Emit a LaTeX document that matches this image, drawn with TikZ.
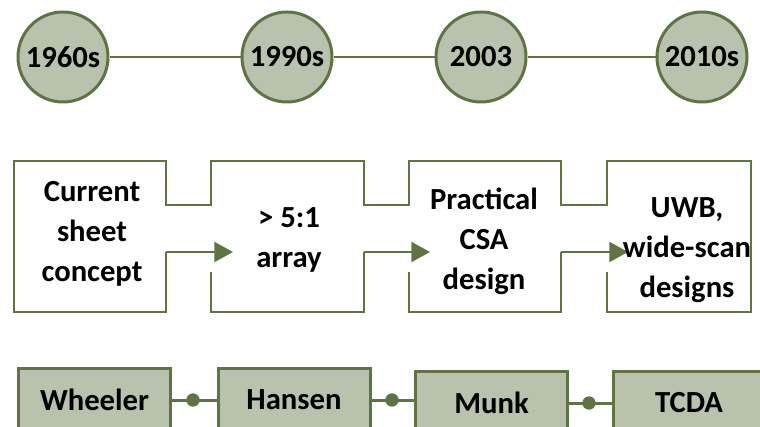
\documentclass[tikz,border=0pt]{standalone}
\usepackage{fontspec}
\setmainfont{Carlito}
\usetikzlibrary{arrows.meta}
\definecolor{olivedark}{RGB}{96,116,67}
\definecolor{olivefill}{RGB}{184,194,173}

\begin{document}
\begin{tikzpicture}
[x=0.75pt,y=-0.75pt,line join=miter,%
  yearnode/.style={shape=circle,draw=olivedark,fill=olivefill,line width=2.25pt,
    inner sep=0pt,minimum size=67.5pt,font=\bfseries\fontsize{23}{28}\selectfont},
  stagetext/.style={align=center,inner sep=0pt,font=\bfseries\fontsize{23}{30}\selectfont},
  personbox/.style={draw=olivedark,fill=olivefill,line width=2.25pt,inner sep=0pt,
    minimum width=114pt,minimum height=46.5pt,font=\bfseries\fontsize{23}{28}\selectfont},
  link/.style={draw=olivedark,line width=1.6pt},
  step arrow/.style={link,-{Triangle[length=14pt,width=15pt]}},
  dot/.style={shape=circle,fill=olivedark,inner sep=0pt,minimum size=10pt}]
\useasboundingbox (0,0) rectangle (760,427);

% timeline
\node[yearnode] (y1) at (63,57) {1960s};
\node[yearnode] (y2) at (287,57) {1990s};
\node[yearnode] (y3) at (481,57) {2003};
\node[yearnode] (y4) at (702,57) {2010s};
\draw[link] (y1) -- (y2) (y2) -- (y3) (y3) -- (y4);

% stages
\draw[link]
  (166,252) -- (166,312) -- (14,312) -- (14,161) -- (166,161) -- (166,205)
  -- (211,205) -- (211,161) -- (364,161) -- (364,205)
  -- (409,205) -- (409,161) -- (561,161) -- (561,205)
  -- (607,205) -- (607,161) -- (751,161) -- (751,312) -- (607,312) -- (607,272);
\draw[link] (211,272) -- (211,312) -- (364,312) -- (364,252);
\draw[link] (409,272) -- (409,312) -- (561,312) -- (561,252);
\coordinate (a1) at (166,252);
\coordinate (a2) at (364,252);
\coordinate (a3) at (561,252);
\coordinate (t1) at (233,252);
\coordinate (t2) at (430,252);
\coordinate (t3) at (628,252);
\draw[step arrow] (a1) -- (t1);
\draw[step arrow] (a2) -- (t2);
\draw[step arrow] (a3) -- (t3);
\node[stagetext] (s1) at (92,234) {Current\\sheet\\concept};
\node[stagetext] (s2) at (289,240) {> 5:1\\array};
\node[stagetext] (s3) at (484,241) {Practical\\CSA\\design};
\node[stagetext] (s4) at (687,250) {UWB,\\wide-scan\\designs};

% people
\begin{scope}
\clip (0,0) rectangle (760,427);
\node[personbox] (p1) at (94.5,400) {Wheeler};
\node[personbox] (p2) at (294,400) {Hansen};
\node[personbox] (p3) at (491.5,403) {Munk};
\node[personbox] (p4) at (689,403) {TCDA};
\draw[link,line width=2.25pt] (p1) -- (p2);
\draw[link,line width=2.25pt] (p2.east) -- (p2.east -| p3.west);
\draw[link,line width=2.25pt] (p3) -- (p4);
\node[dot] (d1) at (193,400) {};
\node[dot] (d2) at (392,400) {};
\node[dot] (d3) at (589,403) {};
\end{scope}
\end{tikzpicture}
\end{document}
